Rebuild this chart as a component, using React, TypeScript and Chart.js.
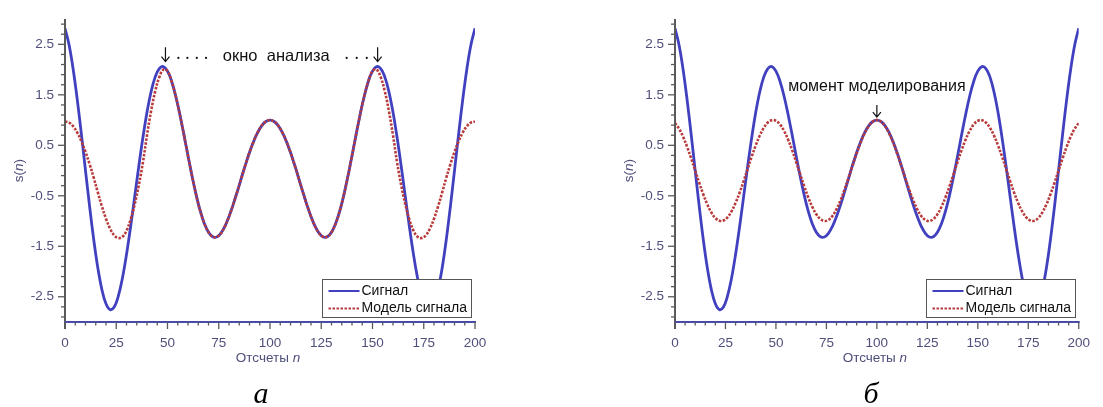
import React, { useEffect, useRef } from "react";
import { Chart, registerables } from "chart.js";
Chart.register(...registerables);

// ---------- data ----------
const sampleN = [
  0, 2, 4, 6, 8, 10, 12, 14, 16, 18, 20, 22, 24, 26, 28, 30, 32, 34, 36, 38, 40, 42, 44, 46, 48,
  50, 52, 54, 56, 58, 60, 62, 64, 66, 68, 70, 72, 74, 76, 78, 80, 82, 84, 86, 88, 90, 92, 94, 96, 98,
  100, 102, 104, 106, 108, 110, 112, 114, 116, 118, 120, 122, 124, 126, 128, 130, 132, 134, 136, 138,
  140, 142, 144, 146, 148, 150, 152, 154, 156, 158, 160, 162, 164, 166, 168, 170, 172, 174, 176, 178,
  180, 182, 184, 186, 188, 190, 192, 194, 196, 198, 200,
];

const signal = [
  2.819, 2.485, 2.002, 1.4, 0.718, 0.0, -0.709, -1.364, -1.925, -2.358, -2.64, -2.755, -2.703, -2.489,
  -2.134, -1.663, -1.112, -0.516, 0.085, 0.653, 1.155, 1.562, 1.855, 2.021, 2.058, 1.97, 1.77, 1.477,
  1.116, 0.712, 0.294, -0.114, -0.486, -0.805, -1.053, -1.223, -1.31, -1.315, -1.243, -1.105, -0.912,
  -0.679, -0.421, -0.153, 0.112, 0.359, 0.577, 0.756, 0.89, 0.972,
  1.0,
  0.972, 0.89, 0.756, 0.577, 0.359, 0.112, -0.153, -0.421, -0.679, -0.912, -1.105, -1.243, -1.315,
  -1.31, -1.223, -1.053, -0.805, -0.486, -0.114, 0.294, 0.712, 1.116, 1.477, 1.77, 1.97, 2.058, 2.021,
  1.855, 1.562, 1.155, 0.653, 0.085, -0.516, -1.112, -1.663, -2.134, -2.489, -2.703, -2.755, -2.64,
  -2.358, -1.925, -1.364, -0.709, 0.0, 0.718, 1.4, 2.002, 2.485, 2.819,
];

// panel "а": model fitted inside the analysis window
const modelWindow = [
  0.972, 0.951, 0.877, 0.752, 0.579, 0.368, 0.127, -0.142, -0.431, -0.708, -0.955, -1.151, -1.283,
  -1.337, -1.313, -1.191, -0.972, -0.666, -0.291, 0.16, 0.7, 1.18, 1.57, 1.85, 2.0,
  1.97, 1.77, 1.477, 1.116, 0.712, 0.294, -0.114, -0.486, -0.805, -1.053, -1.223, -1.31, -1.315,
  -1.243, -1.105, -0.912, -0.679, -0.421, -0.153, 0.112, 0.359, 0.577, 0.756, 0.89, 0.972, 1.0, 0.972,
  0.89, 0.756, 0.577, 0.359, 0.112, -0.153, -0.421, -0.679, -0.912, -1.105, -1.243, -1.315, -1.31,
  -1.223, -1.053, -0.805, -0.486, -0.114, 0.294, 0.712, 1.116, 1.477, 1.77, 1.97,
  2.0, 1.85, 1.57, 1.18, 0.7, 0.16, -0.291, -0.666, -0.972, -1.191, -1.313, -1.337, -1.283, -1.151,
  -0.955, -0.708, -0.431, -0.142, 0.127, 0.368, 0.579, 0.752, 0.877, 0.951, 0.972,
];

// panel "б": model at the modelling moment
const modelMoment = [
  0.94, 0.829, 0.669, 0.47, 0.242, 0.0, -0.242, -0.47, -0.669, -0.829, -0.94, -0.995, -0.99, -0.927,
  -0.809, -0.643, -0.438, -0.208, 0.035, 0.276, 0.5, 0.695, 0.848, 0.951, 0.998, 0.985, 0.914, 0.788,
  0.616, 0.407, 0.174, -0.07, -0.309, -0.53, -0.719, -0.866, -0.961, -0.999, -0.978, -0.899, -0.766,
  -0.588, -0.375, -0.139, 0.105, 0.342, 0.559, 0.743, 0.883, 0.97,
  1.0,
  0.97, 0.883, 0.743, 0.559, 0.342, 0.105, -0.139, -0.375, -0.588, -0.766, -0.899, -0.978, -0.999,
  -0.961, -0.866, -0.719, -0.53, -0.309, -0.07, 0.174, 0.407, 0.616, 0.788, 0.914, 0.985, 0.998,
  0.951, 0.848, 0.695, 0.5, 0.276, 0.035, -0.208, -0.438, -0.643, -0.809, -0.927, -0.99, -0.995,
  -0.94, -0.829, -0.669, -0.47, -0.242, 0.0, 0.242, 0.47, 0.669, 0.829, 0.94,
];

const seriesLabels = ["Сигнал", "Модель сигнала"];
const xTickValues = [0, 25, 50, 75, 100, 125, 150, 175, 200];
const xTickMarks = [
  0, 5, 10, 15, 20, 25, 30, 35, 40, 45, 50, 55, 60, 65, 70, 75, 80, 85, 90, 95, 100, 105, 110, 115,
  120, 125, 130, 135, 140, 145, 150, 155, 160, 165, 170, 175, 180, 185, 190, 195, 200,
];
const yTickValues = [-2.5, -1.5, -0.5, 0.5, 1.5, 2.5];
const yTickMarks = [
  -2.9, -2.7, -2.5, -2.3, -2.1, -1.9, -1.7, -1.5, -1.3, -1.1, -0.9, -0.7, -0.5, -0.3, -0.1, 0.1, 0.3,
  0.5, 0.7, 0.9, 1.1, 1.3, 1.5, 1.7, 1.9, 2.1, 2.3, 2.5, 2.7, 2.9,
];
const xTitle = "Отсчеты ";
const xTitleVar = "n";
const annotationA = "окно  анализа";
const annotationB = "момент моделирования";

// ---------- styles ----------
const SANS = '"Liberation Sans", Arial, sans-serif';
const SERIF = '"Liberation Serif", "Times New Roman", serif';
const BLUE = "#4141c0";
const RED = "#b83a3a";
const LABEL_COLOR = "#4f4f7c";
const Y_AXIS_COLOR = "#5a5a5a";
const X_AXIS_COLOR = "#4a4aa8";

function decorPlugin(kind: "a" | "b", letter: string) {
  return {
    id: "decor_" + kind,
    afterDraw(chart: any) {
      const { ctx, chartArea: ca, scales } = chart;
      const xs = scales.x;
      const ys = scales.y;
      ctx.save();

      // y axis line + tick marks
      ctx.strokeStyle = Y_AXIS_COLOR;
      ctx.lineWidth = 2;
      ctx.beginPath();
      ctx.moveTo(ca.left, ca.top);
      ctx.lineTo(ca.left, ca.bottom + 7);
      ctx.stroke();
      ctx.lineWidth = 1.3;
      for (const v of yTickMarks) {
        const major = yTickValues.some((m) => Math.abs(m - v) < 1e-6);
        const y = ys.getPixelForValue(v);
        ctx.beginPath();
        ctx.moveTo(ca.left - (major ? 7 : 4), y);
        ctx.lineTo(ca.left, y);
        ctx.stroke();
      }

      // x axis line + tick marks
      ctx.strokeStyle = X_AXIS_COLOR;
      ctx.lineWidth = 2;
      ctx.beginPath();
      ctx.moveTo(ca.left, ca.bottom);
      ctx.lineTo(ca.right + 1, ca.bottom);
      ctx.stroke();
      ctx.strokeStyle = Y_AXIS_COLOR;
      ctx.lineWidth = 1.3;
      for (const v of xTickMarks) {
        const major = xTickValues.includes(v);
        const x = xs.getPixelForValue(v);
        ctx.beginPath();
        ctx.moveTo(x, ca.bottom);
        ctx.lineTo(x, ca.bottom + (major ? 7 : 3.5));
        ctx.stroke();
      }

      // axis titles
      ctx.fillStyle = LABEL_COLOR;
      ctx.textBaseline = "middle";
      const normalFont = `13.5px ${SANS}`;
      const italicFont = `italic 13.5px ${SANS}`;
      ctx.font = normalFont;
      const w1 = ctx.measureText(xTitle).width;
      ctx.font = italicFont;
      const w2 = ctx.measureText(xTitleVar).width;
      const cx = (ca.left + ca.right) / 2 - 2;
      let tx = cx - (w1 + w2) / 2;
      ctx.textAlign = "left";
      ctx.font = normalFont;
      ctx.fillText(xTitle, tx, ca.bottom + 36);
      ctx.font = italicFont;
      ctx.fillText(xTitleVar, tx + w1, ca.bottom + 36);

      ctx.save();
      ctx.translate(19, (ca.top + ca.bottom) / 2);
      ctx.rotate(-Math.PI / 2);
      ctx.font = normalFont;
      const a1 = ctx.measureText("s(").width;
      const a3 = ctx.measureText(")").width;
      ctx.font = italicFont;
      const a2 = ctx.measureText("n").width;
      let sx = -(a1 + a2 + a3) / 2;
      ctx.font = normalFont;
      ctx.fillText("s(", sx, 0);
      ctx.font = italicFont;
      ctx.fillText("n", sx + a1, 0);
      ctx.font = normalFont;
      ctx.fillText(")", sx + a1 + a2, 0);
      ctx.restore();

      // annotations
      ctx.fillStyle = "#111";
      ctx.strokeStyle = "#111";
      ctx.lineWidth = 1.2;
      const arrow = (x: number, yTop: number, yTip: number) => {
        ctx.beginPath();
        ctx.moveTo(x, yTop);
        ctx.lineTo(x, yTip);
        ctx.moveTo(x - 4, yTip - 5);
        ctx.lineTo(x, yTip);
        ctx.lineTo(x + 4, yTip - 5);
        ctx.stroke();
      };
      const dot = (x: number, y: number) => {
        ctx.beginPath();
        ctx.arc(x, y, 1.1, 0, Math.PI * 2);
        ctx.fill();
      };
      ctx.textBaseline = "middle";
      if (kind === "a") {
        const yT = ys.getPixelForValue(2.26);
        arrow(xs.getPixelForValue(49), ys.getPixelForValue(2.44), ys.getPixelForValue(2.16));
        arrow(xs.getPixelForValue(152.5), ys.getPixelForValue(2.44), ys.getPixelForValue(2.16));
        for (const n of [55.3, 59.7, 64.3, 68.8]) dot(xs.getPixelForValue(n), yT + 1.5);
        for (const n of [137.4, 142.3, 147.2]) dot(xs.getPixelForValue(n), yT + 1.5);
        ctx.font = `16.5px ${SANS}`;
        ctx.textAlign = "left";
        ctx.fillText(annotationA, xs.getPixelForValue(77), yT);
      } else {
        arrow(xs.getPixelForValue(100), ys.getPixelForValue(1.3), ys.getPixelForValue(1.06));
        ctx.font = `16px ${SANS}`;
        ctx.textAlign = "center";
        ctx.fillText(annotationB, xs.getPixelForValue(100), ys.getPixelForValue(1.67));
      }

      // legend
      const bw = 149;
      const bh = 38;
      const bx = Math.round(ca.right - 153) + 0.5;
      const by = Math.round(ca.bottom - 43) + 0.5;
      ctx.fillStyle = "#ffffff";
      ctx.fillRect(bx, by, bw, bh);
      ctx.strokeStyle = "#555";
      ctx.lineWidth = 1;
      ctx.strokeRect(bx, by, bw, bh);
      const rows = [by + 11.5, by + 29];
      chart.data.datasets.forEach((ds: any, i: number) => {
        const ry = rows[i];
        ctx.strokeStyle = ds.borderColor;
        ctx.lineWidth = 2;
        ctx.setLineDash(ds.borderDash || []);
        ctx.beginPath();
        ctx.moveTo(bx + 6, ry);
        ctx.lineTo(bx + 37, ry);
        ctx.stroke();
        ctx.setLineDash([]);
        ctx.fillStyle = "#111";
        ctx.font = `14px ${SANS}`;
        ctx.textAlign = "left";
        ctx.textBaseline = "middle";
        ctx.fillText(ds.label, bx + 39, ry);
      });

      // panel letter
      ctx.fillStyle = "#000";
      ctx.font = `italic 30px ${SERIF}`;
      ctx.textAlign = "center";
      ctx.textBaseline = "alphabetic";
      ctx.fillText(letter, ca.left + 196, 403);

      ctx.restore();
    },
  };
}

function Panel(props: { model: number[]; kind: "a" | "b"; letter: string; left: number; width: number }) {
  const ref = useRef<HTMLCanvasElement | null>(null);
  useEffect(() => {
    if (!ref.current) return;
    const height = 407;
    const chart = new Chart(ref.current, {
      type: "line",
      data: {
        datasets: [
          {
            label: seriesLabels[0],
            data: sampleN.map((n, i) => ({ x: n, y: signal[i] })),
            borderColor: BLUE,
            borderWidth: 2.8,
            pointRadius: 0,
            tension: 0.4,
            order: 1,
            fill: false,
          },
          {
            label: seriesLabels[1],
            data: sampleN.map((n, i) => ({ x: n, y: props.model[i] })),
            borderColor: RED,
            borderWidth: 2.6,
            borderDash: [2.5, 1.5],
            pointRadius: 0,
            tension: 0.4,
            order: 0,
            fill: false,
          },
        ],
      },
      options: {
        animation: false,
        responsive: false,
        maintainAspectRatio: false,
        layout: { padding: { left: 0, top: 15, right: props.width - 475, bottom: 0 } },
        plugins: { legend: { display: false }, tooltip: { enabled: false } },
        scales: {
          x: {
            type: "linear",
            min: 0,
            max: 200,
            afterBuildTicks: (scale: any) => {
              scale.ticks = xTickValues.map((v) => ({ value: v }));
            },
            afterFit: (scale: any) => {
              scale.height = height - 322;
            },
            grid: { display: false, drawTicks: false },
            border: { display: false },
            ticks: {
              padding: 13,
              maxRotation: 0,
              autoSkip: false,
              color: LABEL_COLOR,
              font: { family: SANS, size: 13.5 },
              callback: (v: any) => String(v),
            },
          },
          y: {
            type: "linear",
            min: -3,
            max: 3,
            afterBuildTicks: (scale: any) => {
              scale.ticks = yTickValues.map((v) => ({ value: v }));
            },
            afterFit: (scale: any) => {
              scale.width = 65;
            },
            grid: { display: false, drawTicks: false },
            border: { display: false },
            ticks: {
              padding: 11,
              autoSkip: false,
              color: LABEL_COLOR,
              font: { family: SANS, size: 13.5 },
              callback: (v: any) => String(v),
            },
          },
        },
      },
      plugins: [decorPlugin(props.kind, props.letter)],
    } as any);
    return () => chart.destroy();
  }, []);
  return (
    <div style={{ position: "absolute", left: props.left, top: 0, width: props.width, height: 407 }}>
      <canvas ref={ref} width={props.width} height={407} style={{ width: props.width, height: 407, display: "block" }} />
    </div>
  );
}

export default function App() {
  return (
    <div style={{ position: "absolute", left: 0, top: 0, width: 1103, height: 407, background: "#fff", overflow: "hidden" }}>
      <Panel model={modelWindow} kind="a" letter="а" left={0} width={610} />
      <Panel model={modelMoment} kind="b" letter="б" left={610} width={493} />
    </div>
  );
}
